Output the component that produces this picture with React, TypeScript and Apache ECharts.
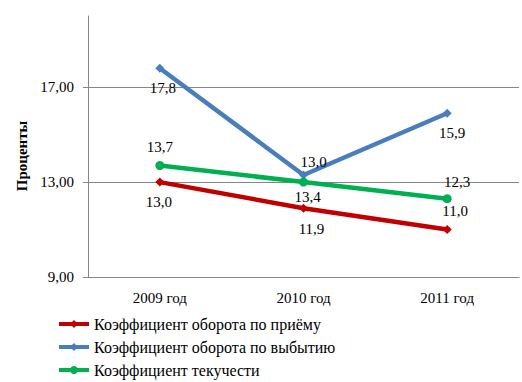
import React, { useEffect, useRef } from "react";
import * as echarts from "echarts";

const categories = ["2009 год", "2010 год", "2011 год"];
const seriesNames = [
  "Коэффициент оборота по приёму",
  "Коэффициент оборота по выбытию",
  "Коэффициент текучести",
];
const hireValues = [13.0, 11.9, 11.0];
const leaveValues = [17.8, 13.3, 15.9];
const turnoverValues = [13.7, 13.0, 12.3];
const hireLabels = ["13,0", "11,9", "11,0"];
const leaveLabels = ["17,8", "13,0", "15,9"];
const turnoverLabels = ["13,7", "13,4", "12,3"];
const yTicks = [9, 13, 17];

const FONT = "Liberation Serif";

export default function App() {
  const ref = useRef<HTMLDivElement>(null);
  useEffect(() => {
    document.body.style.margin = "0";
    if (!ref.current) return;
    const chart = echarts.init(ref.current, undefined, { renderer: "svg" });
    const mk = (
      vals: number[],
      labels: string[],
      pos: string[],
      offs: number[][]
    ) =>
      vals.map((v, i) => ({
        value: v,
        label: {
          show: true,
          position: pos[i],
          distance: 5,
          offset: offs[i],
          formatter: () => labels[i],
          color: "#000",
          fontSize: 15,
          fontFamily: FONT,
        },
      }));
    chart.setOption({
      animation: false,
      textStyle: { fontFamily: FONT },
      grid: { left: 88, right: 3, top: 16, bottom: 105 },
      graphic: [
        {
          type: "text",
          x: 22,
          y: 156,
          rotation: Math.PI / 2,
          style: {
            text: "Проценты",
            fontFamily: FONT,
            fontSize: 15,
            fontWeight: "bold",
            fill: "#000",
            align: "center",
            verticalAlign: "middle",
          },
        },
      ],
      legend: {
        orient: "vertical",
        left: 57,
        top: 316,
        height: 72,
        padding: 0,
        itemWidth: 30,
        itemHeight: 10,
        itemGap: 7,
        lineStyle: { width: 4 },
        textStyle: { fontSize: 16, fontFamily: FONT, color: "#000" },
        data: seriesNames,
      },
      xAxis: {
        type: "category",
        data: categories,
        boundaryGap: true,
        axisLine: { lineStyle: { color: "#868686" } },
        axisTick: { show: false },
        axisLabel: { color: "#000", fontSize: 15, fontFamily: FONT, margin: 13 },
      },
      yAxis: {
        type: "value",
        min: 9,
        max: 20,
        axisLine: { show: true, lineStyle: { color: "#868686" } },
        axisTick: {
          show: true,
          length: 5,
          customValues: yTicks,
          lineStyle: { color: "#868686" },
        },
        axisLabel: {
          customValues: yTicks,
          color: "#000",
          fontSize: 15,
          fontFamily: FONT,
          margin: 14,
          formatter: (v: number) => v.toFixed(2).replace(".", ","),
        },
        splitLine: { show: true, lineStyle: { color: "#868686" } },
      },
      series: [
        {
          name: seriesNames[0],
          type: "line",
          symbol: "diamond",
          symbolSize: 9,
          color: "#C00000",
          lineStyle: { width: 4.5, color: "#C00000" },
          itemStyle: { color: "#C00000" },
          data: mk(hireValues, hireLabels, ["bottom", "bottom", "top"], [[-1, 3], [8, 4], [8, -2]]),
          z: 3,
        },
        {
          name: seriesNames[1],
          type: "line",
          symbol: "diamond",
          symbolSize: 9,
          color: "#4A7EBB",
          lineStyle: { width: 4.5, color: "#4A7EBB" },
          itemStyle: { color: "#4A7EBB" },
          data: mk(leaveValues, leaveLabels, ["bottom", "top", "bottom"], [[3, 3], [10, 4], [5, 3]]),
          z: 2,
        },
        {
          name: seriesNames[2],
          type: "line",
          symbol: "circle",
          symbolSize: 9,
          color: "#00B050",
          lineStyle: { width: 4.5, color: "#00B050" },
          itemStyle: { color: "#00B050" },
          data: mk(turnoverValues, turnoverLabels, ["top", "bottom", "top"], [[0, -1], [4, -2], [10, 0]]),
          z: 4,
        },
      ],
    });
    return () => chart.dispose();
  }, []);
  return <div ref={ref} style={{ width: 522, height: 382 }} />;
}
